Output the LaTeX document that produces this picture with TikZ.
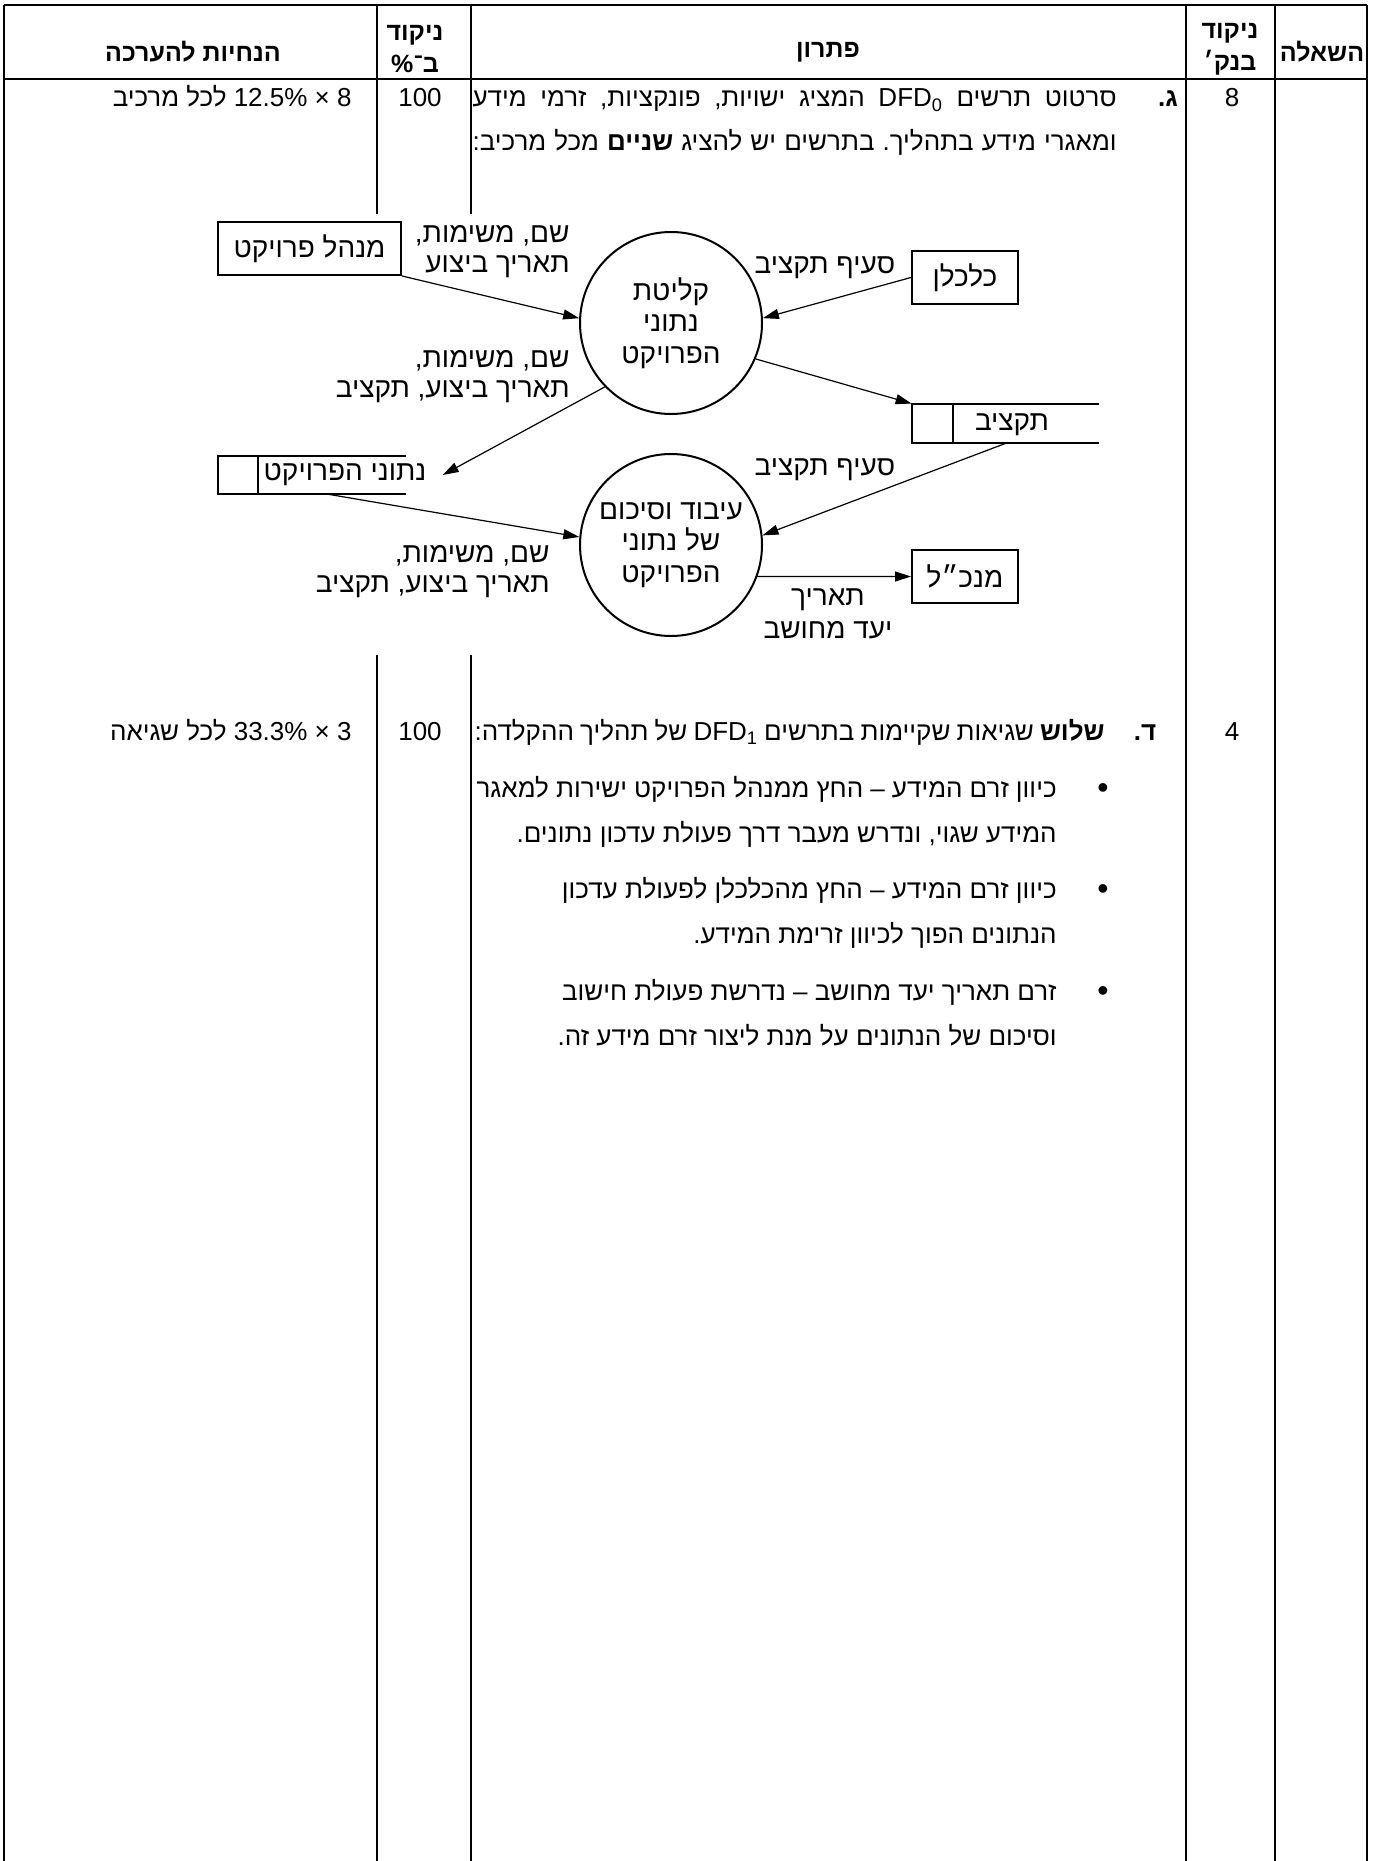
\documentclass[tikz,border=0pt]{standalone}
\usepackage{fontspec}
\setmainfont{Liberation Sans}[Script=Hebrew]
\TeXXeTstate=1
\frenchspacing
\usetikzlibrary{arrows.meta,calc,positioning}
\newcommand{\heb}[1]{\beginR#1\endR}
\newcommand{\lat}[1]{\beginL#1\endL}
\newcommand{\bul}{{\fontsize{16}{16}\selectfont\textbullet}}

\begin{document}
\begin{tikzpicture}[
  x=0.5pt,y=-0.5pt,
  tab/.style={line width=.6pt},
  head/.style={inner sep=0pt,align=center,font=\fontsize{12.5}{16}\selectfont\bfseries},
  cell/.style={anchor=base east,inner sep=0pt,font=\fontsize{13}{20}\selectfont},
  cellc/.style={anchor=base,inner sep=0pt,font=\fontsize{13}{20}\selectfont},
  ent/.style={draw,line width=1pt,minimum width=53pt,minimum height=26.5pt,
    font=\fontsize{14}{16}\selectfont},
  proc/.style={draw,circle,line width=1pt,minimum size=91pt,inner sep=0pt,
    align=center,font=\fontsize{14}{15.75}\selectfont},
  store/.style={inner sep=0pt,minimum width=94pt,minimum height=19pt},
  sline/.style={line width=1pt},
  lbl/.style={inner sep=0pt,align=right,font=\fontsize{14}{15}\selectfont},
  lblc/.style={inner sep=0pt,align=center,font=\fontsize{14}{16.5}\selectfont},
  arr/.style={-{Triangle[length=8pt,width=5pt]},line width=.6pt}
]
\useasboundingbox (0,0) rectangle (1381,1861);
% table
\draw[tab] (4,5) -- (1367,5);
\draw[tab] (4,79) -- (1367,79);
\foreach \x in {4,1186,1275,1367} \draw[tab] (\x,5) -- (\x,1861);
\foreach \x in {377,471} {
  \draw[tab] (\x,5) -- (\x,214);
  \draw[tab] (\x,655) -- (\x,1861);
}
\node[head] (hGuide) at (193,52) {\heb{הנחיות להערכה}};
\node[head] (hPct) at (415,49) {\heb{ניקוד}\\\heb{ב־\%}};
\node[head] (hSol) at (828,52) {\heb{פתרון}};
\node[head] (hBank) at (1230,49) {\heb{ניקוד}\\\heb{בנק׳}};
\node[head] (hQ) at (1322,52) {\heb{השאלה}};

% row g
\node[cellc] (gBank) at (1232,107) {8};
\node[cellc,font=\fontsize{13}{20}\selectfont\bfseries] (gLbl) at (1168,107) {\heb{ג.}};
\node[cell] (gLine1) at (1117,107)
  {\hbox to 322pt{\heb{סרטוט תרשים \lat{DFD\textsubscript{0}} המציג ישויות, פונקציות, זרמי מידע}}};
\node[cell] (gLine2) at (1117,151)
  {\hbox to 322pt{\heb{ומאגרי מידע בתהליך. בתרשים יש להציג \textbf{שניים} מכל מרכיב:}}};
\node[cellc] (gPct) at (420,107) {100};
\node[cell] (gGuide) at (352,107) {\heb{\lat{8} × \lat{12.5\%} לכל מרכיב}};

% DFD0
\node[ent,minimum width=91.5pt] (mgr) at (309.5,248.5) {\heb{מנהל פרויקט}};
\node[ent] (econ) at (965,277.5) {\heb{כלכלן}};
\node[ent] (ceo) at (965,576.5) {\heb{מנכ״ל}};
\node[proc] (p1) at (671,323) {\heb{קליטת}\\\heb{נתוני}\\\heb{הפרויקט}};
\node[proc] (p2) at (671,545) {\heb{עיבוד וסיכום}\\\heb{של נתוני}\\\heb{הפרויקט}};
\node[store] (dsP) at (312,475) {};
\node[lbl] (dsPtxt) at (345,475) {\heb{נתוני הפרויקט}};
\draw[sline] (dsP.north east) -- (dsP.north west) -- (dsP.south west) -- (dsP.south east);
\draw[sline] ($(dsP.north west)+(40,0)$) -- ($(dsP.south west)+(40,0)$);
\node[store,minimum width=93.5pt,minimum height=19.5pt] (dsB) at (1005.5,423.5) {};
\node[lbl] (dsBtxt) at (1012,425) {\heb{תקציב}};
\draw[sline] (dsB.north east) -- (dsB.north west) -- (dsB.south west) -- (dsB.south east);
\draw[sline] ($(dsB.north west)+(41,0)$) -- ($(dsB.south west)+(41,0)$);

\draw[arr] (mgr.south east) -- (p1.177);
\draw[arr] (econ.west) -- (p1.3);
\draw[arr] (p1.-23) -- (dsB.north west);
\draw[arr] (p1.224) -- ([xshift=8pt]dsPtxt.east);
\draw[arr] ($(dsP.south)+(17,0)$) -- (p2.175);
\draw[arr] (dsB.south) -- (p2.6);
\draw[arr] (p2.-20.6) -- (ceo.west);

\node[lbl,anchor=east] (fMgr) at (570,252) {\heb{שם, משימות,}\\\heb{תאריך ביצוע}};
\node[lbl,anchor=east] (fOut) at (570,377) {\heb{שם, משימות,}\\\heb{תאריך ביצוע, תקציב}};
\node[lbl,anchor=east] (fIn) at (550,572) {\heb{שם, משימות,}\\\heb{תאריך ביצוע, תקציב}};
\node[lbl] (fEcon) at (825,268) {\heb{סעיף תקציב}};
\node[lbl] (fBud) at (825,470) {\heb{סעיף תקציב}};
\node[lblc] (fCeo) at (828,614) {\heb{תאריך}\\\heb{יעד מחושב}};

% row d
\node[cellc] (dBank) at (1232,740) {4};
\node[cellc,font=\fontsize{13}{20}\selectfont\bfseries] (dLbl) at (1145,740) {\heb{ד.}};
\node[cell] (dLine) at (1105,740)
  {\hbox to 315pt{\heb{\textbf{שלוש} שגיאות שקיימות בתרשים \lat{DFD\textsubscript{1}} של תהליך ההקלדה:}}};
\node[cellc] (dPct) at (420,740) {100};
\node[cell] (dGuide) at (352,740) {\heb{\lat{3} × \lat{33.3\%} לכל שגיאה}};
\node[cellc] (bul1) at (1103,798) {\bul};
\node[cell] (e1a) at (1057,797)
  {\hbox to 290pt{\heb{כיוון זרם המידע – החץ ממנהל הפרויקט ישירות למאגר}}};
\node[cell] (e1b) at (1057,842) {\heb{המידע שגוי, ונדרש מעבר דרך פעולת עדכון נתונים.}};
\node[cellc] (bul2) at (1103,899) {\bul};
\node[cell] (e2a) at (1057,898) {\heb{כיוון זרם המידע – החץ מהכלכלן לפעולת עדכון}};
\node[cell] (e2b) at (1057,943) {\heb{הנתונים הפוך לכיוון זרימת המידע.}};
\node[cellc] (bul3) at (1103,1001) {\bul};
\node[cell] (e3a) at (1057,1000) {\heb{זרם תאריך יעד מחושב – נדרשת פעולת חישוב}};
\node[cell] (e3b) at (1057,1045) {\heb{וסיכום של הנתונים על מנת ליצור זרם מידע זה.}};
\end{tikzpicture}
\end{document}
